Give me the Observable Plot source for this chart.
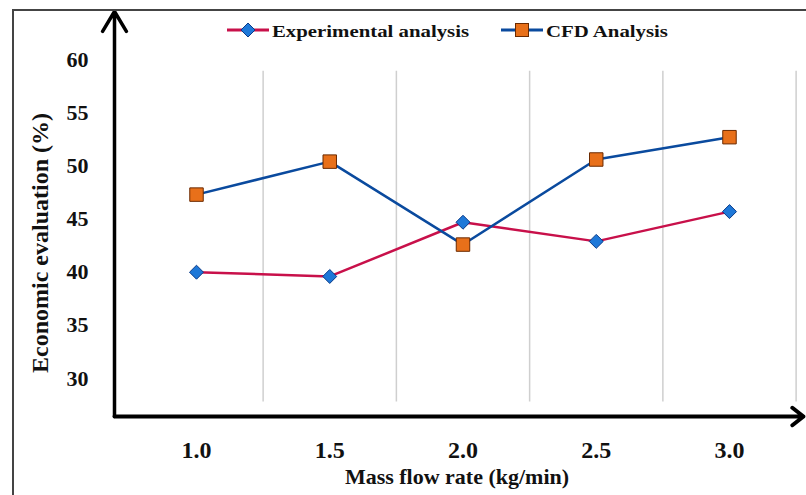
<!DOCTYPE html>
<html>
<head>
<meta charset="utf-8">
<script src="https://cdn.jsdelivr.net/npm/d3@7"></script>
<script src="https://cdn.jsdelivr.net/npm/@observablehq/plot@0.6"></script>
<style>
  html, body { margin: 0; padding: 0; background: #fff; }
  #wrap { position: relative; width: 806px; height: 495px; overflow: hidden; }
  #frame { position: absolute; left: 12px; top: 9px; width: 900px; height: 600px;
           border-left: 2px solid #444; border-top: 2px solid #444; pointer-events: none; }
  .leg { position: absolute; font-family: "Liberation Serif", "Times New Roman", serif;
         font-weight: bold; font-size: 16px; line-height: 16px; color: #111;
         transform: scaleX(1.3); transform-origin: left center; white-space: nowrap; }
  .sw { position: absolute; }
</style>
</head>
<body>
<div id="wrap"><div id="frame"></div></div>
<script>
// ---- data ----
const categories = [1.0, 1.5, 2.0, 2.5, 3.0];
const xTickLabels = ["1.0", "1.5", "2.0", "2.5", "3.0"];
const experimental = [40.0, 39.6, 44.7, 42.9, 45.7];
const cfd = [47.3, 50.4, 42.6, 50.6, 52.7];
const yTicks = [30, 35, 40, 45, 50, 55, 60];
const gridX = [1.25, 1.75, 2.25, 2.75, 3.25];
const seriesNames = ["Experimental analysis", "CFD Analysis"];
const xTitle = "Mass flow rate (kg/min)";
const yTitle = "Economic evaluation (%)";

const xDomain = [0.6923, 3.2777];
const yDomain = [26.43, 64.52];
const gridSpan = [27.8, 58.9];

const expData = categories.map((c, i) => ({x: c, y: experimental[i]}));
const cfdData = categories.map((c, i) => ({x: c, y: cfd[i]}));

const serif = "Liberation Serif, Times New Roman, serif";
const crimson = "#c8104a";
const navy = "#0a4a9e";
const diamondFill = "#1e78d8", diamondStroke = "#0a3a88";
const squareFill = "#e8701a", squareStroke = "#6b2a00";

const chart = Plot.plot({
  width: 806,
  height: 495,
  marginLeft: 114,
  marginRight: 3,
  marginTop: 11,
  marginBottom: 79,
  style: {background: "transparent", fontFamily: serif},
  x: {domain: xDomain},
  y: {domain: yDomain},
  marks: [
    Plot.ruleX(gridX, {x: d => d, y1: gridSpan[0], y2: gridSpan[1], stroke: "#cfcfcf", strokeWidth: 1.5}),
    Plot.axisY({ticks: yTicks, tickSize: 0, tickPadding: 26, label: null,
      fontSize: 22, fontWeight: "bold", fontFamily: serif, fill: "#111"}),
    Plot.axisX({ticks: categories, tickFormat: (d) => xTickLabels[categories.indexOf(d)],
      tickSize: 0, tickPadding: 24, label: null,
      fontSize: 24, fontWeight: "bold", fontFamily: serif, fill: "#111"}),
    Plot.text([xTitle], {text: d => d, frameAnchor: "bottom", lineAnchor: "bottom",
      dx: -2, dy: 67, fontSize: 22, fontWeight: "bold", fontFamily: serif, fill: "#111"}),
    Plot.text([yTitle], {text: d => d, frameAnchor: "left", textAnchor: "middle", rotate: -90,
      dx: -74, dy: 29, fontSize: 24, fontWeight: "bold", fontFamily: serif, fill: "#111"}),
    Plot.line(expData, {x: "x", y: "y", stroke: crimson, strokeWidth: 2.5}),
    Plot.line(cfdData, {x: "x", y: "y", stroke: navy, strokeWidth: 2.5}),
    Plot.dot(expData, {x: "x", y: "y", symbol: "diamond2", r: 6.3,
      fill: diamondFill, stroke: diamondStroke, strokeWidth: 1}),
    Plot.dot(cfdData, {x: "x", y: "y", symbol: "square", r: 7.6,
      fill: squareFill, stroke: squareStroke, strokeWidth: 1}),
    Plot.arrow([0], {x1: xDomain[0], x2: xDomain[0], y1: yDomain[0], y2: yDomain[1],
      stroke: "#000", strokeWidth: 3.5, headLength: 9.9, headAngle: 62}),
    Plot.arrow([0], {x1: xDomain[0], x2: xDomain[1], y1: yDomain[0], y2: yDomain[0],
      stroke: "#000", strokeWidth: 4, headLength: 5.3, headAngle: 76})
  ]
});
const wrap = document.getElementById("wrap");
chart.style.position = "absolute";
chart.style.left = "0px";
chart.style.top = "0px";
wrap.insertBefore(chart, wrap.firstChild);

// ---- legend (HTML overlay) ----
function swatch(left, lineColor, kind) {
  const ns = "http://www.w3.org/2000/svg";
  const s = document.createElementNS(ns, "svg");
  s.setAttribute("width", 42); s.setAttribute("height", 18);
  s.setAttribute("class", "sw");
  s.style.left = left + "px"; s.style.top = "21px";
  const l = document.createElementNS(ns, "line");
  l.setAttribute("x1", 0); l.setAttribute("x2", 42); l.setAttribute("y1", 9); l.setAttribute("y2", 9);
  l.setAttribute("stroke", lineColor); l.setAttribute("stroke-width", 3);
  s.appendChild(l);
  let m;
  if (kind === "diamond") {
    m = document.createElementNS(ns, "path");
    m.setAttribute("d", "M21,2L28,9L21,16L14,9Z");
    m.setAttribute("fill", diamondFill); m.setAttribute("stroke", diamondStroke);
  } else {
    m = document.createElementNS(ns, "rect");
    m.setAttribute("x", 14.5); m.setAttribute("y", 2.5); m.setAttribute("width", 13); m.setAttribute("height", 13);
    m.setAttribute("fill", squareFill); m.setAttribute("stroke", squareStroke);
  }
  m.setAttribute("stroke-width", 1);
  s.appendChild(m);
  wrap.appendChild(s);
}
function legText(left, txt) {
  const d = document.createElement("div");
  d.className = "leg";
  d.style.left = left + "px"; d.style.top = "24px";
  d.textContent = txt;
  wrap.appendChild(d);
}
swatch(227, crimson, "diamond");
legText(272, seriesNames[0]);
swatch(501, navy, "square");
legText(546, seriesNames[1]);
</script>
</body>
</html>
